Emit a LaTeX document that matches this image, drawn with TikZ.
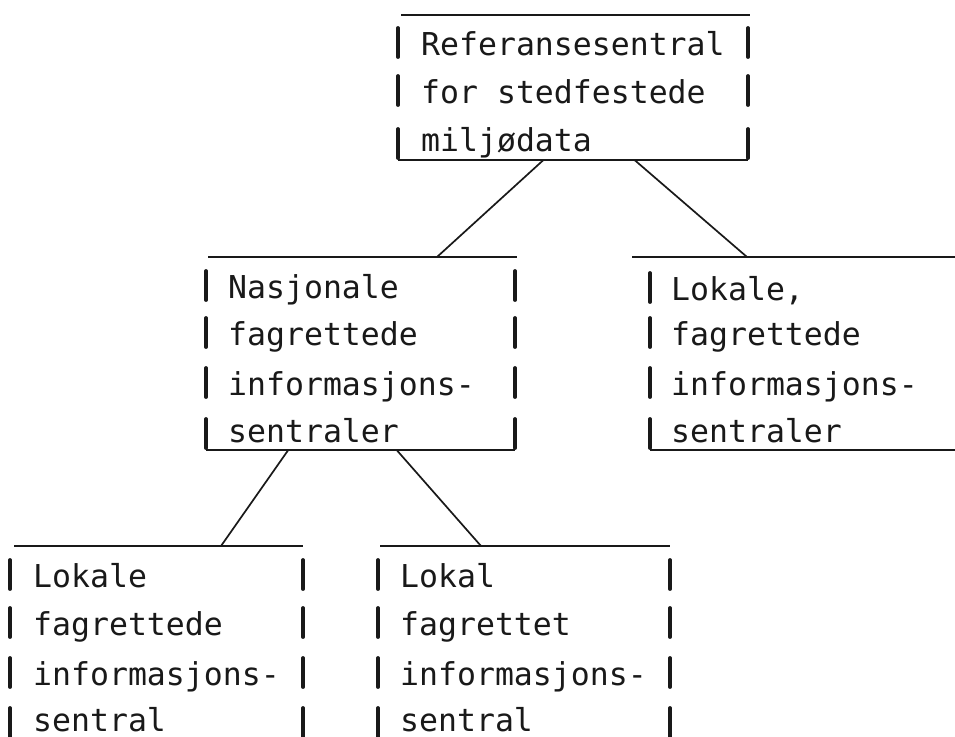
\documentclass[tikz,border=0pt]{standalone}
\usepackage{fontspec}
\setmonofont{DejaVu Sans Mono}
\usetikzlibrary{calc}
\tikzset{
  txt/.style={font=\ttfamily\fontsize{31.5}{46}\selectfont, anchor=base west, inner sep=0pt, text=black!90},
  frame/.style={rectangle, inner sep=0pt, anchor=north west},
  rule/.style={line width=1.9pt, draw=black!90},
  barline/.style={line width=3.8pt, line cap=round, draw=black!90},
  link/.style={line width=1.7pt, draw=black!90},
}
\newcommand\typebars[2]{%
  \foreach \b in {#2}{\foreach \xx in {#1}{\draw[barline] (\xx,\b-27) -- (\xx,\b+2);}}}
\begin{document}
\begin{tikzpicture}[x=1pt,y=-1pt]
\useasboundingbox (0,0) rectangle (955,736);
% frames
\node[frame, minimum width=350pt, minimum height=145pt] (top) at (398,15) {};
\node[frame, minimum width=309pt, minimum height=193pt] (ml) at (206,257) {};
\node[frame, minimum width=305pt, minimum height=193pt] (rt) at (650,257) {};
\node[frame, minimum width=293pt, minimum height=190pt] (bl) at (10,546) {};
\node[frame, minimum width=292pt, minimum height=190pt] (bm) at (378,546) {};
% top box
\draw[rule] ($(top.north west)+(3,0)$) -- ($(top.north east)+(2,0)$);
\draw[rule] (top.south west) -- (top.south east);
\typebars{398,748}{55,103,156}
\node[txt] (t1) at (421,55) {Referansesentral};
\node[txt] (t2) at (421,103) {for stedfestede};
\node[txt] (t3) at (421,151) {miljødata};
% middle left
\draw[rule] ($(ml.north west)+(2,0)$) -- ($(ml.north east)+(2,0)$);
\draw[rule] (ml.south west) -- (ml.south east);
\typebars{206,515}{298,345,395,446}
\node[txt] (m1) at (228,298) {Nasjonale};
\node[txt] (m2) at (228,345) {fagrettede};
\node[txt] (m3) at (228,395) {informasjons-};
\node[txt] (m4) at (228,442) {sentraler};
% right
\draw[rule] ($(rt.north west)+(-18,0)$) -- (rt.north east);
\draw[rule] (rt.south west) -- (rt.south east);
\typebars{650}{300,345,395,446}
\node[txt] (r1) at (671,300) {Lokale,};
\node[txt] (r2) at (671,345) {fagrettede};
\node[txt] (r3) at (671,395) {informasjons-};
\node[txt] (r4) at (671,442) {sentraler};
% bottom left
\draw[rule] ($(bl.north west)+(4,0)$) -- (bl.north east);
\typebars{10,303}{587,635,685,735}
\node[txt] (a1) at (33,587) {Lokale};
\node[txt] (a2) at (33,635) {fagrettede};
\node[txt] (a3) at (33,685) {informasjons-};
\node[txt] (a4) at (33,731) {sentral};
% bottom middle
\draw[rule] ($(bm.north west)+(2,0)$) -- (bm.north east);
\typebars{378,670}{587,635,685,735}
\node[txt] (b1) at (400,587) {Lokal};
\node[txt] (b2) at (400,635) {fagrettet};
\node[txt] (b3) at (400,685) {informasjons-};
\node[txt] (b4) at (400,731) {sentral};
% connectors
\draw[link] ($(top.south west)+(145,0)$) -- ($(ml.north west)+(231,0)$);
\draw[link] ($(top.south west)+(237,0)$) -- ($(rt.north west)+(97,0)$);
\draw[link] ($(ml.south west)+(82,0)$) -- ($(bl.north west)+(211,0)$);
\draw[link] ($(ml.south west)+(191,0)$) -- ($(bm.north west)+(103,0)$);
\end{tikzpicture}
\end{document}
